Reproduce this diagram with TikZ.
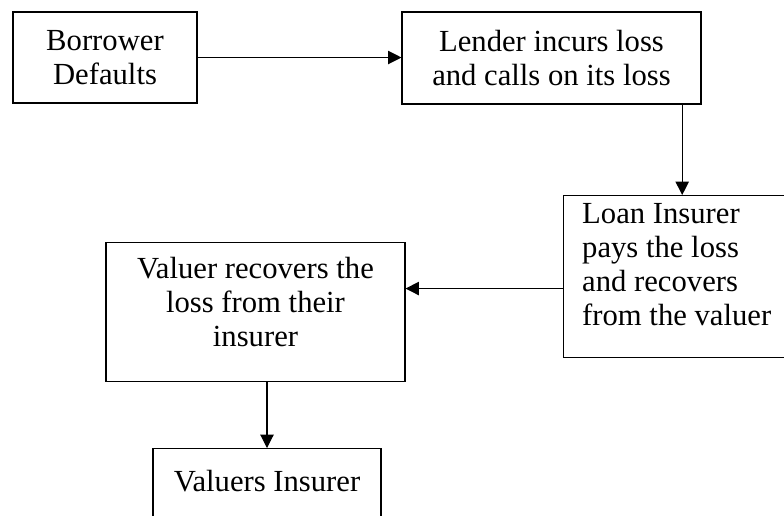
\documentclass[tikz,border=0pt]{standalone}
\usepackage{fontspec}
\setmainfont{Liberation Serif}
\usetikzlibrary{arrows.meta}

\begin{document}
\begin{tikzpicture}[x=0.75pt, y=-0.75pt,
        box/.style={draw, line width=0.8pt, inner sep=0pt, align=center,
            font=\fontsize{23}{25.5}\selectfont},
        arr/.style={-{Triangle[length=10pt, width=10pt]}, line width=0.8pt}]
        \useasboundingbox (0,0) rectangle (784,515);

        \node[box, minimum width=138pt, minimum height=68.25pt] (borrower) at (105,57.5) {Borrower\\Defaults};
        \node[box, minimum width=224.25pt, minimum height=69pt] (lender) at (551.5,58) {Lender incurs loss\\and calls on its loss};
        \node[box, anchor=north west, align=flush left, text width=150pt, inner xsep=14pt,
            text height=21pt, text depth=100.5pt] (loan) at (563,195) {Loan Insurer\\pays the loss\\and recovers\\from the valuer};
        \node[box, anchor=north, minimum width=224.25pt, text height=78pt, text depth=26.25pt] (valuer) at (255.5,242) {Valuer recovers the\\loss from their\\insurer};
        \node[box, anchor=north, minimum width=171pt, text height=32pt, text depth=40pt] (valins) at (267,448) {Valuers Insurer};

        \draw[arr] (borrower.east) -- (borrower.east -| lender.west);
        \draw[arr] (lender.south -| loan.north) -- (loan.north);
        \draw[arr] ([yshift=-9pt]loan.west) -- ([yshift=-9pt]loan.west -| valuer.east);
        \draw[arr] (valuer.south -| valins.north) -- (valins.north);
\end{tikzpicture}
\end{document}
